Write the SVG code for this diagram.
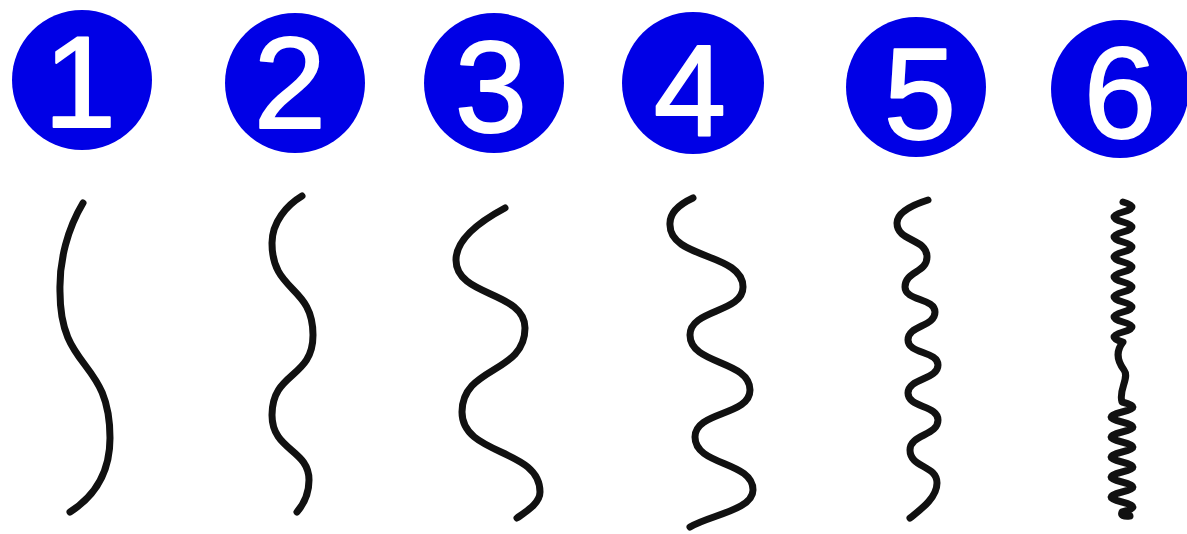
<svg xmlns="http://www.w3.org/2000/svg" width="1187" height="534" viewBox="0 0 1187 534">
<style>
.badge{fill:#0000e6}
.num{fill:#fff;stroke:#fff;stroke-width:2;stroke-linejoin:round;font-family:"Liberation Sans","DejaVu Sans",sans-serif;font-size:130px;text-anchor:middle}
.wave{fill:none;stroke:#111;stroke-width:7;stroke-linecap:round;stroke-linejoin:round}
</style>
<rect width="1187" height="534" fill="#fff"/>
<g id="node-1">
<circle class="badge" cx="82" cy="80" r="70"/>
<text class="num" x="80" y="127">1</text>
</g>
<g id="node-2">
<circle class="badge" cx="295" cy="83" r="70"/>
<text class="num" x="290" y="128">2</text>
</g>
<g id="node-3">
<circle class="badge" cx="494" cy="83" r="70"/>
<text class="num" x="491" y="132">3</text>
</g>
<g id="node-4">
<circle class="badge" cx="693" cy="83" r="71"/>
<text class="num" x="690" y="135">4</text>
</g>
<g id="node-5">
<circle class="badge" cx="916" cy="87" r="70"/>
<text class="num" x="920" y="139">5</text>
</g>
<g id="node-6">
<circle class="badge" cx="1120" cy="89" r="69"/>
<text class="num" x="1120" y="138">6</text>
</g>
<g id="waves">
<path id="wave-1" class="wave" d="M83,203 C68,228 59,260 60,292 C60,372 110,358 110,438 C110,475 92,498 70,512"/>
<path id="wave-2" class="wave" d="M302,196 C287,205 272,222 272,243 C272,293 313,285 313,335 C313,379 272,371 272,415 C272,451 309,449 309,480 C309,495 303,505 297,512"/>
<path id="wave-3" class="wave" d="M505,208 C490,216 456,235 456,260 C456,297 525,291 525,328 C525,374 462,366 462,412 C462,456 540,448 540,492 C540,503 527,511 517,518"/>
<path id="wave-4" class="wave" d="M693,198 C680,204 669,212 670,225 C670,259 743,253 743,287 C743,313 690,309 690,335 C690,365 750,360 750,390 C750,416 695,411 695,437 C695,466 753,461 753,490 C753,510 710,515 690,527"/>
<path id="wave-5" class="wave" d="M928,200 C915,204 897,212 897,223 C897,242 927,238 927,257 C927,273 905,271 905,287 C905,301 935,298 935,312 C935,327 908,325 908,340 C908,354 938,351 938,365 C938,380 908,378 908,393 C908,408 938,405 938,420 C938,436 910,434 910,450 C910,468 937,465 937,483 C937,498 920,510 910,518"/>
<path id="wave-6" class="wave" d="M1123,202 Q1141,207 1123,212 t0,10 t0,10 t0,10 t0,10 t0,10 t0,10 t0,10 t0,10 t0,10 t0,10 t0,10 t0,10 t0,10 C1115,352 1118,362 1124,370 C1130,378 1118,390 1122,402 Q1144,407 1122,412 t0,10 t0,10 t0,10 t0,10 t0,10 t0,10 t0,10 t0,10 t0,10 t0,10 Q1120,517 1130,516"/>
</g>
</svg>
